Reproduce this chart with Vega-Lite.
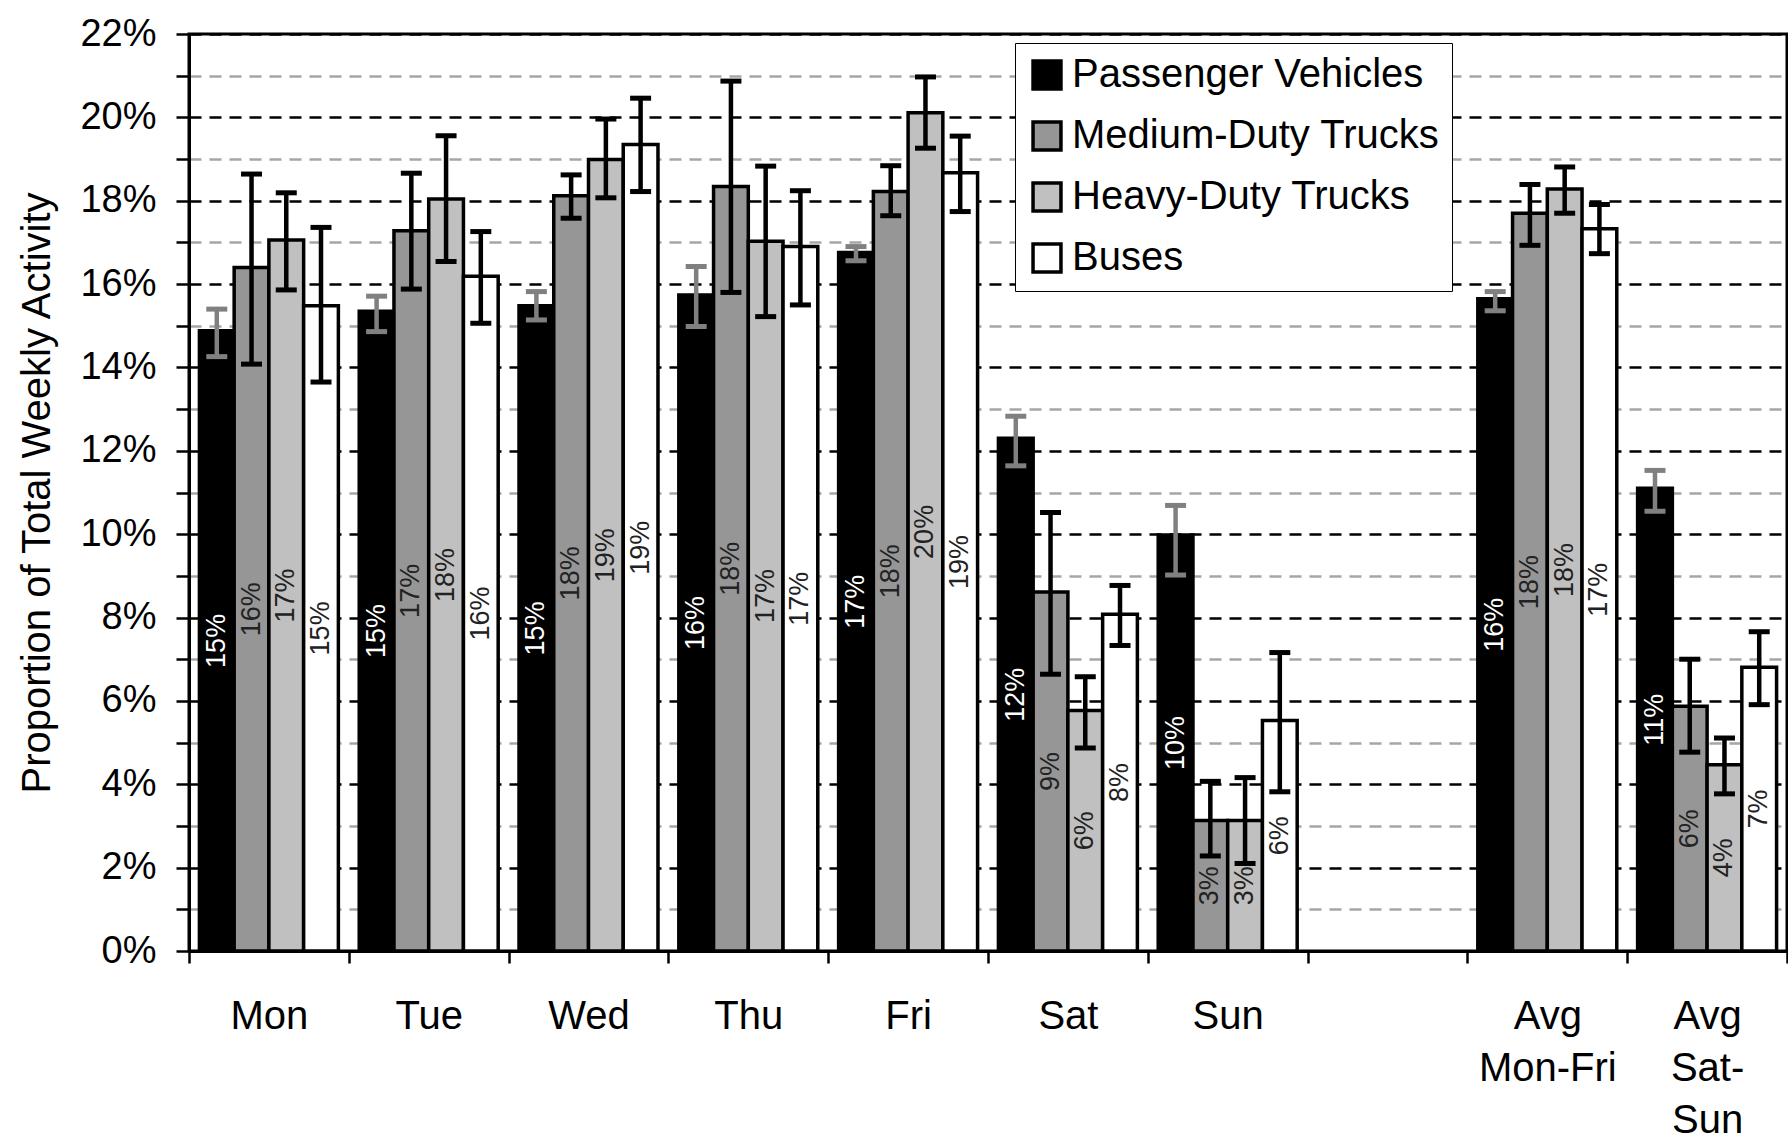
{
  "$schema": "https://vega.github.io/schema/vega-lite/v6.json",
  "width": 1598,
  "height": 917,
  "autosize": {"type": "none"},
  "padding": {"left": 189, "top": 34, "right": 1, "bottom": 188},
  "background": "white",
  "config": {"font": "Liberation Sans", "view": {"stroke": "black", "strokeWidth": 3}},
  "data": {"values": [
    {"day": "Mon", "series": "Passenger Vehicles", "value": 0.1488, "lo": 0.1426, "hi": 0.1540},
    {"day": "Mon", "series": "Medium-Duty Trucks", "value": 0.1640, "lo": 0.1408, "hi": 0.1864},
    {"day": "Mon", "series": "Heavy-Duty Trucks", "value": 0.1706, "lo": 0.1586, "hi": 0.1819},
    {"day": "Mon", "series": "Buses", "value": 0.1548, "lo": 0.1365, "hi": 0.1736},
    {"day": "Tue", "series": "Passenger Vehicles", "value": 0.1535, "lo": 0.1486, "hi": 0.1571},
    {"day": "Tue", "series": "Medium-Duty Trucks", "value": 0.1728, "lo": 0.1588, "hi": 0.1866},
    {"day": "Tue", "series": "Heavy-Duty Trucks", "value": 0.1804, "lo": 0.1654, "hi": 0.1956},
    {"day": "Tue", "series": "Buses", "value": 0.1619, "lo": 0.1506, "hi": 0.1726},
    {"day": "Wed", "series": "Passenger Vehicles", "value": 0.1548, "lo": 0.1514, "hi": 0.1582},
    {"day": "Wed", "series": "Medium-Duty Trucks", "value": 0.1812, "lo": 0.1758, "hi": 0.1862},
    {"day": "Wed", "series": "Heavy-Duty Trucks", "value": 0.1899, "lo": 0.1807, "hi": 0.1996},
    {"day": "Wed", "series": "Buses", "value": 0.1935, "lo": 0.1822, "hi": 0.2046},
    {"day": "Thu", "series": "Passenger Vehicles", "value": 0.1574, "lo": 0.1498, "hi": 0.1642},
    {"day": "Thu", "series": "Medium-Duty Trucks", "value": 0.1834, "lo": 0.1580, "hi": 0.2087},
    {"day": "Thu", "series": "Heavy-Duty Trucks", "value": 0.1703, "lo": 0.1522, "hi": 0.1883},
    {"day": "Thu", "series": "Buses", "value": 0.1690, "lo": 0.1550, "hi": 0.1824},
    {"day": "Fri", "series": "Passenger Vehicles", "value": 0.1676, "lo": 0.1656, "hi": 0.1690},
    {"day": "Fri", "series": "Medium-Duty Trucks", "value": 0.1822, "lo": 0.1764, "hi": 0.1884},
    {"day": "Fri", "series": "Heavy-Duty Trucks", "value": 0.2011, "lo": 0.1926, "hi": 0.2097},
    {"day": "Fri", "series": "Buses", "value": 0.1867, "lo": 0.1774, "hi": 0.1955},
    {"day": "Sat", "series": "Passenger Vehicles", "value": 0.1230, "lo": 0.1164, "hi": 0.1283},
    {"day": "Sat", "series": "Medium-Duty Trucks", "value": 0.0861, "lo": 0.0664, "hi": 0.1052},
    {"day": "Sat", "series": "Heavy-Duty Trucks", "value": 0.0577, "lo": 0.0487, "hi": 0.0658},
    {"day": "Sat", "series": "Buses", "value": 0.0808, "lo": 0.0733, "hi": 0.0877},
    {"day": "Sun", "series": "Passenger Vehicles", "value": 0.0998, "lo": 0.0902, "hi": 0.1069},
    {"day": "Sun", "series": "Medium-Duty Trucks", "value": 0.0313, "lo": 0.0228, "hi": 0.0407},
    {"day": "Sun", "series": "Heavy-Duty Trucks", "value": 0.0313, "lo": 0.0210, "hi": 0.0416},
    {"day": "Sun", "series": "Buses", "value": 0.0553, "lo": 0.0382, "hi": 0.0716},
    {"day": "Avg|Mon-Fri", "series": "Passenger Vehicles", "value": 0.1565, "lo": 0.1536, "hi": 0.1582},
    {"day": "Avg|Mon-Fri", "series": "Medium-Duty Trucks", "value": 0.1770, "lo": 0.1693, "hi": 0.1839},
    {"day": "Avg|Mon-Fri", "series": "Heavy-Duty Trucks", "value": 0.1828, "lo": 0.1770, "hi": 0.1881},
    {"day": "Avg|Mon-Fri", "series": "Buses", "value": 0.1733, "lo": 0.1673, "hi": 0.1791},
    {"day": "Avg|Sat-|Sun", "series": "Passenger Vehicles", "value": 0.1110, "lo": 0.1055, "hi": 0.1153},
    {"day": "Avg|Sat-|Sun", "series": "Medium-Duty Trucks", "value": 0.0587, "lo": 0.0477, "hi": 0.0700},
    {"day": "Avg|Sat-|Sun", "series": "Heavy-Duty Trucks", "value": 0.0447, "lo": 0.0377, "hi": 0.0511},
    {"day": "Avg|Sat-|Sun", "series": "Buses", "value": 0.0681, "lo": 0.0591, "hi": 0.0766}
  ]},
  "layer": [
    {
      "layer": [
        {
          "mark": {"type": "bar", "stroke": "black", "strokeWidth": 3.5, "opacity": 1},
          "encoding": {
            "x": {
              "field": "day", "type": "nominal", "sort": null,
              "scale": {"domain": ["Mon", "Tue", "Wed", "Thu", "Fri", "Sat", "Sun", " ", "Avg|Mon-Fri", "Avg|Sat-|Sun"], "paddingInner": 0, "paddingOuter": 0},
              "axis": {
                "title": null, "labelExpr": "split(datum.label, '|')", "labelAngle": 0, "labelFontSize": 40,
                "labelColor": "black", "labelPadding": 33, "labelLineHeight": 52, "labelBaseline": "top",
                "tickBand": "extent", "tickSize": 12, "tickWidth": 2.5, "tickColor": "black",
                "domainColor": "black", "domainWidth": 3, "grid": false
              }
            },
            "xOffset": {
              "field": "series", "type": "nominal", "sort": null,
              "scale": {"domain": ["Passenger Vehicles", "Medium-Duty Trucks", "Heavy-Duty Trucks", "Buses"], "paddingOuter": 0.3, "paddingInner": 0}
            },
            "y": {
              "field": "value", "type": "quantitative",
              "scale": {"domain": [0, 0.22], "nice": false, "zero": true},
              "axis": {
                "title": "Proportion of Total Weekly Activity", "titleFontSize": 40, "titleFontWeight": "normal",
                "titleColor": "black", "titlePadding": 22,
                "values": [0, 0.01, 0.02, 0.03, 0.04, 0.05, 0.06, 0.07, 0.08, 0.09, 0.1, 0.11, 0.12, 0.13, 0.14, 0.15, 0.16, 0.17, 0.18, 0.19, 0.2, 0.21, 0.22],
                "format": ".0%",
                "labelExpr": "round(datum.value * 100) % 2 === 0 ? datum.label : ''",
                "labelFontSize": 38, "labelColor": "black", "labelPadding": 20, "labelFlush": false, "labelOverlap": false,
                "tickSize": 13, "tickWidth": 2.5, "tickColor": "black",
                "domainColor": "black", "domainWidth": 3,
                "grid": true, "gridDash": [12, 8], "gridWidth": 2.5,
                "gridColor": {"condition": {"test": "round(datum.value * 100) % 2 === 0", "value": "black"}, "value": "#a6a6a6"}
              }
            },
            "color": {
              "field": "series", "type": "nominal",
              "scale": {"domain": ["Passenger Vehicles", "Medium-Duty Trucks", "Heavy-Duty Trucks", "Buses"], "range": ["#000000", "#969696", "#c0c0c0", "#ffffff"]},
              "legend": {
                "title": null, "orient": "none", "legendX": 826, "legendY": 9, "direction": "vertical",
                "fillColor": "white", "strokeColor": "black", "padding": 12,
                "symbolType": "square", "symbolSize": 780, "symbolStrokeColor": "black", "symbolStrokeWidth": 3.5, "symbolOpacity": 1,
                "labelFontSize": 40, "labelColor": "black", "labelOffset": 5, "rowPadding": 19, "labelLimit": 600
              }
            }
          }
        },
        {
          "mark": {"type": "rule", "strokeWidth": 4.5, "opacity": 1},
          "encoding": {
            "x": {"field": "day", "type": "nominal", "sort": null},
            "xOffset": {"field": "series", "type": "nominal", "sort": null},
            "y": {"field": "lo", "type": "quantitative"},
            "y2": {"field": "hi"},
            "color": {"condition": {"test": "datum.series === 'Passenger Vehicles'", "value": "#808080"}, "value": "black"}
          }
        },
        {
          "mark": {"type": "tick", "thickness": 5, "size": 21, "opacity": 1},
          "encoding": {
            "x": {"field": "day", "type": "nominal", "sort": null},
            "xOffset": {"field": "series", "type": "nominal", "sort": null},
            "y": {"field": "lo", "type": "quantitative"},
            "color": {"condition": {"test": "datum.series === 'Passenger Vehicles'", "value": "#808080"}, "value": "black"}
          }
        },
        {
          "mark": {"type": "tick", "thickness": 5, "size": 21, "opacity": 1},
          "encoding": {
            "x": {"field": "day", "type": "nominal", "sort": null},
            "xOffset": {"field": "series", "type": "nominal", "sort": null},
            "y": {"field": "hi", "type": "quantitative"},
            "color": {"condition": {"test": "datum.series === 'Passenger Vehicles'", "value": "#808080"}, "value": "black"}
          }
        }
      ]
    },
    {
      "mark": {"type": "text", "angle": 270, "fontSize": 27, "align": "center", "baseline": "middle"},
      "encoding": {
        "x": {"field": "day", "type": "nominal", "sort": null},
        "xOffset": {"field": "series", "type": "nominal", "sort": null},
        "y": {"field": "value", "type": "quantitative", "scale": {"domain": [0, 0.44], "nice": false, "zero": true}, "axis": null},
        "text": {"field": "value", "type": "quantitative", "format": ".0%"},
        "color": {"condition": {"test": "datum.series === 'Passenger Vehicles'", "value": "white"}, "value": "#222222"}
      }
    }
  ],
  "resolve": {"scale": {"y": "independent"}}
}
